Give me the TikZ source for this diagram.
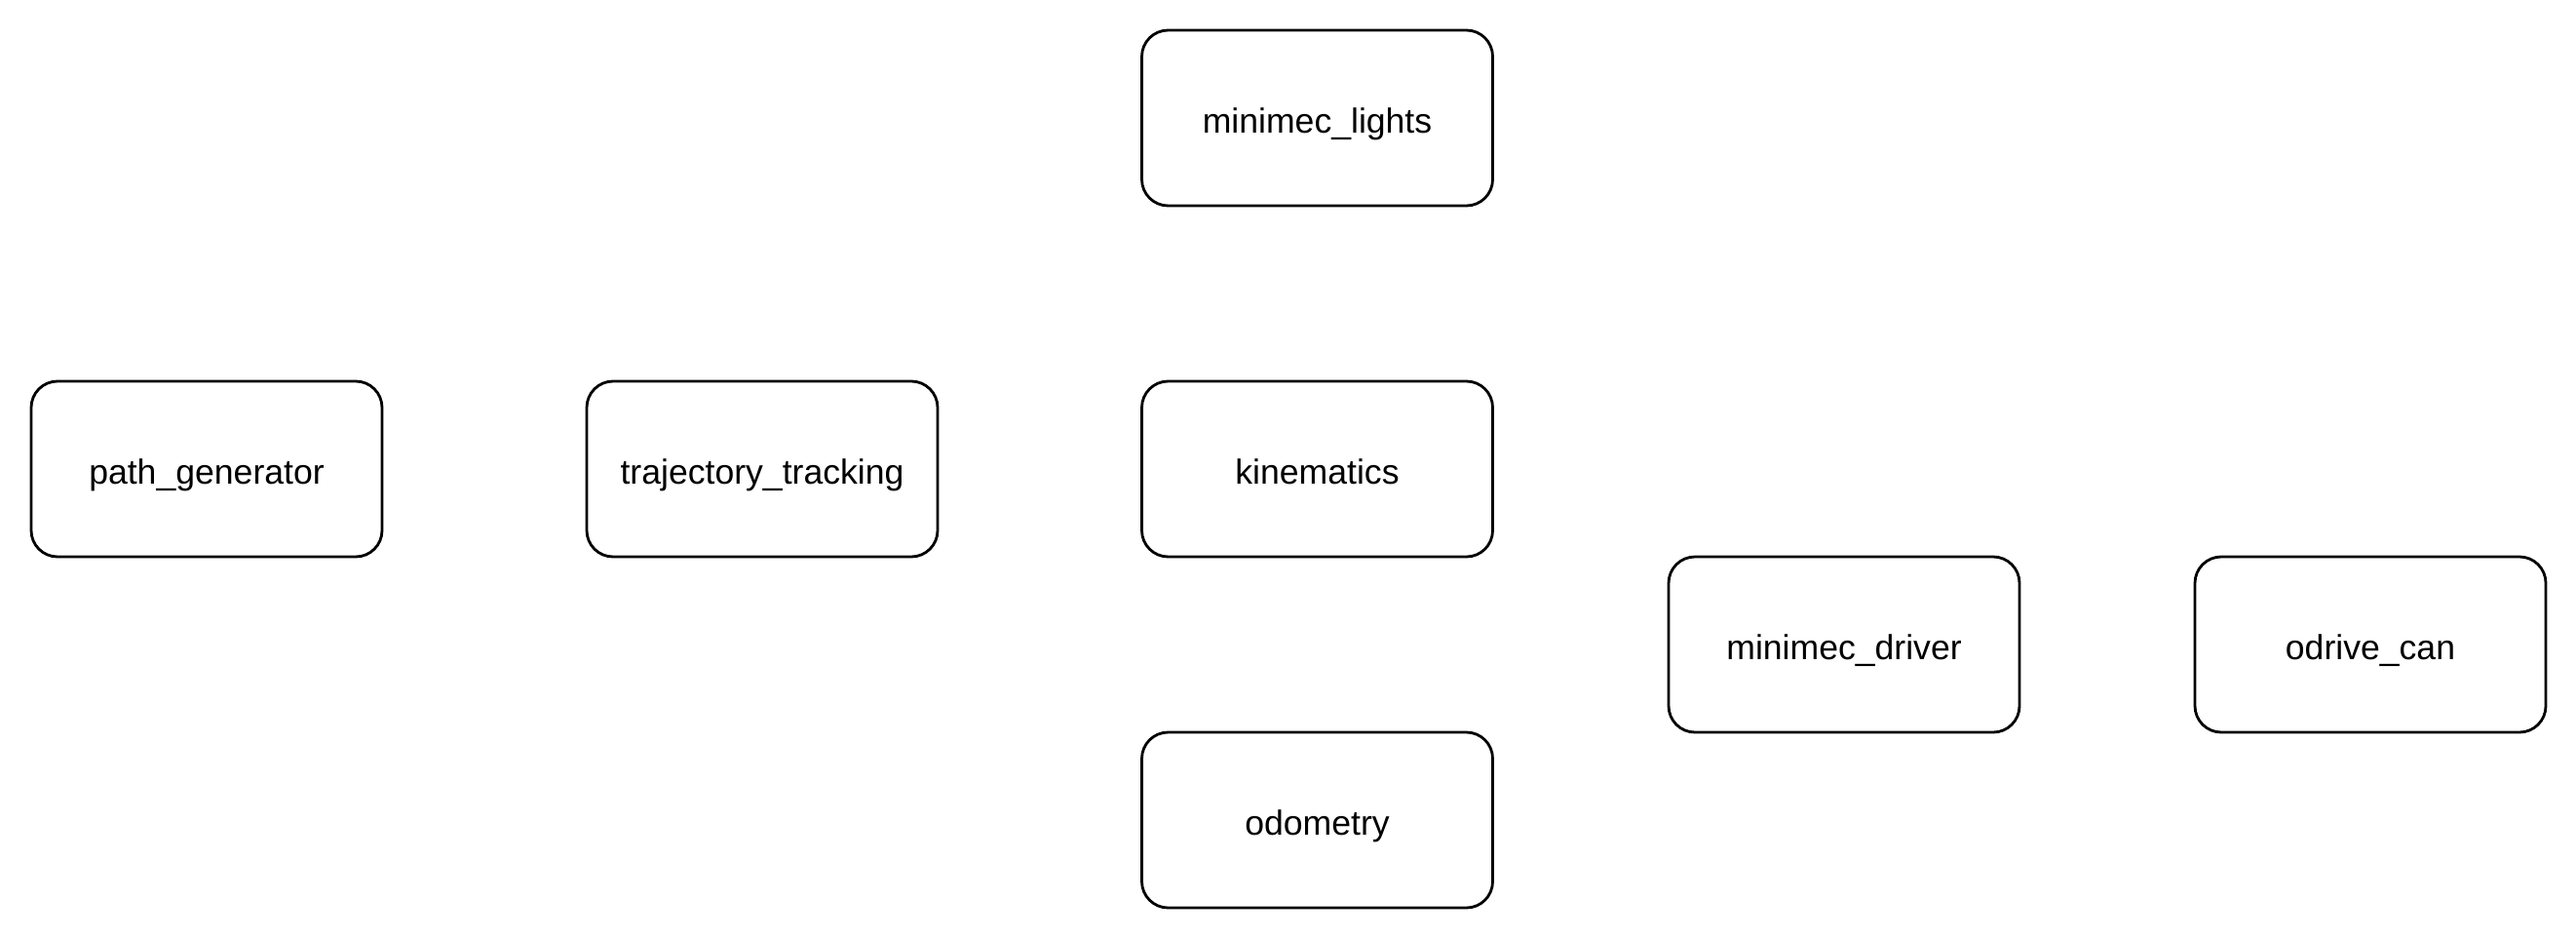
\documentclass[tikz,border=0pt]{standalone}
\usepackage{fontspec}
\setmainfont{Liberation Sans}
\begin{document}
\begin{tikzpicture}[x=1pt,y=1pt,
  box/.style={draw=black, line width=1.4pt, rounded corners=13.5pt, fill=white,
    minimum width=180pt, minimum height=90pt, inner sep=0pt,
    text height=15pt, text depth=0pt,
    font=\fontsize{17.8}{20}\selectfont}]
\useasboundingbox (0,0) rectangle (1321.5,-481.5);
\node[box] (lights) at (675.75,-60.5) {minimec\_lights};
\node[box] (path) at (106,-240.5) {path\_generator};
\node[box] (traj) at (391,-240.5) {trajectory\_tracking};
\node[box] (kin) at (675.75,-240.5) {kinematics};
\node[box] (odo) at (675.75,-420.5) {odometry};
\node[box] (driver) at (946,-330.5) {minimec\_driver};
\node[box] (odrive) at (1216,-330.5) {odrive\_can};
\end{tikzpicture}
\end{document}
